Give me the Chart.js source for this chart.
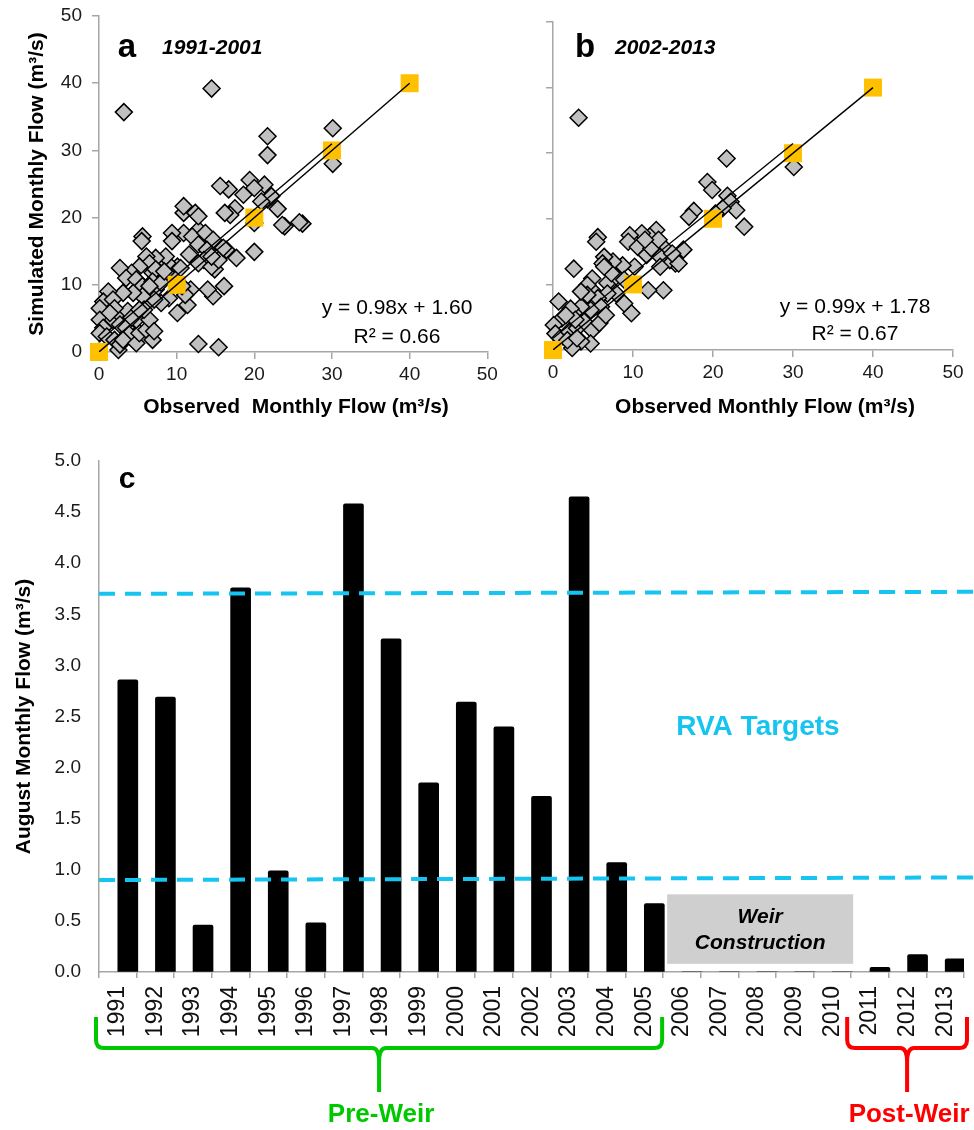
<!DOCTYPE html>
<html>
<head>
<meta charset="utf-8">
<script src="https://cdn.jsdelivr.net/npm/chart.js@4.4.0/dist/chart.umd.min.js"></script>
<style>
  body{margin:0;background:#fff;}
  #wrap{position:relative;width:974px;height:1130px;overflow:hidden;}
  canvas{position:absolute;}
</style>
</head>
<body>
<div id="wrap">
  <canvas id="chartA" width="500" height="420" style="left:0;top:0"></canvas>
  <canvas id="chartB" width="494" height="420" style="left:480px;top:0"></canvas>
  <canvas id="chartC" width="974" height="690" style="left:0;top:440px"></canvas>
</div>
<script>
const FONT = "'Liberation Sans', Arial, sans-serif";
Chart.defaults.font.family = FONT;
Chart.defaults.color = "#1a1a1a";
const AXIS = "#a6a6a6";
const CYAN = "#16c4f0";

/* ------- DATA ------- */
// panel a, 1991-2001 (observed vs simulated, m3/s)
const obsA = [3.2,14.5,30.1,21.7,21.7,30.1,12.8,15.4,20.0,23.9,26.2,25.8,23.6,23.0,21.7,21.3,19.4,18.6,20.0,16.7,
  15.6,17.5,16.9,16.2,20.0,22.2,20.9,17.7,16.4,16.1,14.7,14.0,11.8,10.9,12.4,10.9,12.8,10.9,9.4,9.4,
  12.0,13.7,14.7,12.8,11.6,13.9,14.5,14.9,13.5,10.1,8.8,8.6,7.3,9.9,9.0,10.1,11.4,8.0,5.6,5.5,
  6.1,6.5,6.9,5.2,4.2,2.7,3.5,4.8,5.6,6.5,7.3,7.1,5.6,4.4,3.1,1.2,0.55,1.8,0.1,0.1,
  0.55,0.1,1.0,2.0,2.5,2.7,1.8,2.5,3.7,2.7,3.5,3.9,3.1,4.8,5.2,4.8,4.2,6.1,6.9,6.5,
  7.1,5.8,5.2,2.0,1.4,7.3,6.9,8.0,8.4,10.5,11.1,10.7,6.5,12.8,14.5,15.4,16.0,12.8,14.5];
const simA = [35.7,39.2,33.3,32.1,29.3,28.0,1.2,0.7,14.9,18.7,19.1,19.3,18.9,21.3,22.7,24.9,25.6,23.4,24.4,24.2,
  24.7,21.4,20.4,20.7,19.2,23.2,22.4,14.0,15.2,9.8,8.3,9.3,9.3,20.7,20.7,21.7,18.2,17.7,17.7,16.5,
  17.2,17.7,16.7,16.0,14.5,15.2,13.2,12.3,13.7,12.7,13.2,14.2,14.0,10.8,8.0,5.8,7.0,7.3,17.2,16.5,
  14.2,13.2,11.8,12.7,11.8,12.5,11.0,10.8,9.8,8.8,9.3,7.8,8.3,8.8,8.8,9.0,7.5,7.8,6.5,4.8,
  3.6,2.8,2.3,1.8,0.3,1.1,4.8,5.8,6.1,4.1,3.6,2.6,1.8,1.3,2.8,4.8,5.1,3.3,1.8,4.8,
  3.1,6.3,6.3,6.5,5.8,12.3,10.5,10.3,12.0,12.5,8.5,9.8,9.8,13.2,12.7,13.7,15.5,20.2,14.2];

// panel b, 2002-2013
const obsB = [3.2,21.7,30.1,19.3,19.9,21.8,22.2,22.9,23.9,21.2,20.3,17.6,17.0,16.3,15.3,14.6,13.8,12.9,12.1,11.1,
  9.6,9.4,10.6,11.7,12.3,13.4,13.4,10.2,8.7,7.5,6.4,6.2,5.6,5.4,2.6,13.8,11.9,9.8,8.9,7.9,
  6.8,6.8,4.9,4.9,4.3,5.6,6.0,4.7,3.5,2.6,2.2,0.7,1.1,0.1,0.3,0.9,2.0,3.0,3.9,4.9,
  4.7,3.5,2.4,1.8,3.0,5.8,6.6,4.3,3.5,2.8,1.6,15.7,14.9,13.2,11.5,7.9,8.9,7.3,6.4];
const simB = [35.4,29.2,27.9,25.6,24.4,23.5,22.6,21.3,18.8,21.6,20.8,21.2,20.3,15.3,13.2,13.7,15.7,18.3,17.3,17.8,
  17.5,16.5,15.7,14.5,15.5,14.2,12.7,12.7,12.9,13.5,14.2,13.2,17.2,16.5,12.4,9.1,9.1,5.6,7.1,8.6,
  10.2,8.6,10.9,9.1,9.9,7.9,6.6,6.1,6.6,5.6,6.3,7.4,4.8,3.8,2.5,1.8,2.8,3.3,4.3,3.0,
  1.0,1.3,0.3,1.5,1.8,4.1,5.3,8.4,8.9,4.6,5.3,13.2,14.7,16.8,16.8,11.2,10.7,11.7,12.7];

const refPts = [0, 10, 20, 30, 40];      // 1:1 markers
const fitA = [0.98, 1.60], r2A = 0.66;   // slope, intercept
const fitB = [0.99, 1.78], r2B = 0.67;
const fitEnd = 30;

// panel c
const years = ["1991","1992","1993","1994","1995","1996","1997","1998","1999","2000","2001","2002",
  "2003","2004","2005","2006","2007","2008","2009","2010","2011","2012","2013"];
const augFlow = [2.86,2.69,0.46,3.76,0.99,0.48,4.58,3.26,1.85,2.64,2.40,1.72,
  4.65,1.07,0.67,0,0,0,0,0,0.045,0.17,0.13];
const rvaHigh = [3.70, 3.72];
const rvaLow = [0.90, 0.925];
const weir = ["2006", "2010"];
const periods = [
  { label:"Pre-Weir", from:"1991", to:"2005", color:"#00c800" },
  { label:"Post-Weir", from:"2011", to:"2013", color:"#ff0000" }
];

/* ------- HELPERS ------- */
const texts = {
  id: "texts",
  afterDraw(chart, args, opts){
    const ctx = chart.ctx;
    ctx.save();
    (opts.items || []).forEach(t=>{
      ctx.font = t.font + " " + FONT;
      ctx.fillStyle = t.color || "#000";
      ctx.textAlign = t.align || "center";
      ctx.textBaseline = "middle";
      ctx.fillText(t.t, t.x, t.y);
    });
    ctx.restore();
  }
};
Chart.register(texts);

// fixed axis box, no label overhang padding
function fixBox(s, size){
  if(s.isHorizontal()) s.height = size; else s.width = size;
  s.paddingTop = s.paddingBottom = s.paddingLeft = s.paddingRight = 0;
}

/* ------- SCATTER PANELS ------- */
function scatter(id, obs, sim, fit, o){
  const pts = obs.map((x,i)=>({x:x, y:sim[i]}));
  return new Chart(document.getElementById(id), {
    type: "scatter",
    data: { datasets: [
      { type:"line", data:[{x:0,y:0},{x:40,y:40}], borderColor:"#000", borderWidth:1.4, pointRadius:0 },
      { type:"line", data:[{x:0,y:fit[1]},{x:fitEnd,y:fit[0]*fitEnd+fit[1]}], borderColor:"#000", borderWidth:1.4, pointRadius:0 },
      { data: refPts.map(v=>({x:v,y:v})), pointStyle:"rect", pointRadius:12.7, backgroundColor:"#ffc000", borderWidth:0, clip:false },
      { data: pts, pointStyle:"rectRot", pointRadius:8.5, backgroundColor:"#c0c0c0", borderColor:"#000", borderWidth:1.5, clip:false }
    ]},
    options: {
      responsive:false, animation:false, events:[],
      layout:{ padding:{ top:o.top, right:o.right, left:0, bottom:0 } },
      plugins:{ legend:{display:false}, tooltip:{enabled:false}, texts:{ items:o.texts } },
      scales:{
        x:{ type:"linear", min:0, max:50,
            ticks:{ stepSize:10, font:{size:19}, padding:4 },
            grid:{ drawOnChartArea:false, tickLength:7, color:AXIS, lineWidth:1.5 },
            border:{ color:AXIS, width:1.5 },
            afterFit: s=>fixBox(s, o.xh) },
        y:{ type:"linear", min:0, max:50,
            ticks:{ stepSize:10, font:{size:19}, padding:10, callback: v=> o.yLabels ? v : "" },
            grid:{ drawOnChartArea:false, tickLength:7, color:AXIS, lineWidth:1.5 },
            border:{ color:AXIS, width:1.5 },
            title:{ display:!!o.yTitle, text:o.yTitle, color:"#000", font:{size:21, weight:"bold"}, padding:{top:25, bottom:0} },
            afterFit: s=>fixBox(s, o.yw) }
      }
    }
  });
}

const eq = f => `y = ${f[0].toFixed(2)}x + ${f[1].toFixed(2)}`;

scatter("chartA", obsA, simA, fitA, {
  top:16, right:8, xh:68, yw:99, yLabels:true,
  yTitle:"Simulated Monthly Flow (m³/s)",
  texts:[
    { t:"a", x:127, y:48, font:"bold 33px" },
    { t:"1991-2001", x:162, y:48, font:"italic bold 21px", align:"left" },
    { t:eq(fitA), x:397, y:308, font:"21px" },
    { t:"R² = " + r2A.toFixed(2), x:397, y:337, font:"21px" },
    { t:"Observed  Monthly Flow (m³/s)", x:296, y:407, font:"bold 21px" }
  ]
});

scatter("chartB", obsB, simB, fitB, {
  top:22, right:21, xh:70, yw:73, yLabels:false,
  texts:[
    { t:"b", x:105, y:48, font:"bold 33px" },
    { t:"2002-2013", x:135, y:48, font:"italic bold 21px", align:"left" },
    { t:eq(fitB), x:375, y:307, font:"21px" },
    { t:"R² = " + r2B.toFixed(2), x:375, y:334, font:"21px" },
    { t:"Observed Monthly Flow (m³/s)", x:285, y:407, font:"bold 21px" }
  ]
});

/* ------- PANEL C EXTRAS ------- */
function brace(ctx, x1, x2, yTop, yMid, yTip){
  const xm = (x1+x2)/2, r = 8;
  ctx.beginPath();
  ctx.moveTo(x1, yTop);
  ctx.lineTo(x1, yMid-r);
  ctx.quadraticCurveTo(x1, yMid, x1+r, yMid);
  ctx.lineTo(xm-7, yMid);
  ctx.quadraticCurveTo(xm, yMid, xm, yMid+14);
  ctx.lineTo(xm, yTip);
  ctx.moveTo(xm, yMid+14);
  ctx.quadraticCurveTo(xm, yMid, xm+7, yMid);
  ctx.lineTo(x2-r, yMid);
  ctx.quadraticCurveTo(x2, yMid, x2, yMid-r);
  ctx.lineTo(x2, yTop);
  ctx.stroke();
}

const cExtras = {
  id: "cExtras",
  afterDraw(chart){
    const {ctx, scales:{x, y}} = chart;
    const cw = x.getPixelForValue(1) - x.getPixelForValue(0);
    const edge = i => x.getPixelForValue(i) - cw/2;
    ctx.save();

    // weir construction box
    const b1 = edge(years.indexOf(weir[0])) + 4, b2 = edge(years.indexOf(weir[1])+1) + 2;
    const t1 = y.getPixelForValue(0.76), t2 = y.getPixelForValue(0.08);
    ctx.fillStyle = "#d0cfcf";
    ctx.fillRect(b1, t1, b2-b1, t2-t1);
    ctx.fillStyle = "#000";
    ctx.textAlign = "center"; ctx.textBaseline = "middle";
    ctx.font = "italic bold 21px " + FONT;
    ctx.fillText("Weir", (b1+b2)/2, t1+23);
    ctx.fillText("Construction", (b1+b2)/2, t1+49);

    // labels
    ctx.font = "bold 30px " + FONT;
    ctx.fillText("c", 127, 40);
    ctx.fillStyle = CYAN;
    ctx.font = "bold 28px " + FONT;
    ctx.fillText("RVA Targets", 758, 287);

    // period braces
    ctx.lineWidth = 4;
    periods.forEach((p,k)=>{
      const x1 = edge(years.indexOf(p.from)) - (k ? 4 : 3);
      const x2 = edge(years.indexOf(p.to)+1) + (k ? 3 : -1);
      ctx.strokeStyle = p.color;
      brace(ctx, x1, x2, 577, 608, 652);
      ctx.fillStyle = p.color;
      ctx.font = "bold 26px " + FONT;
      ctx.fillText(p.label, (x1+x2)/2 + 2, 675);
    });
    ctx.restore();
  }
};

new Chart(document.getElementById("chartC"), {
  type: "bar",
  data: { labels: years, datasets: [
    { type:"line", xAxisID:"xl", data:[{x:0,y:rvaHigh[0]},{x:1.012,y:rvaHigh[1]}], borderColor:CYAN, borderWidth:4, borderDash:[16,10], pointRadius:0, clip:false },
    { type:"line", xAxisID:"xl", data:[{x:0,y:rvaLow[0]},{x:1.012,y:rvaLow[1]}], borderColor:CYAN, borderWidth:4, borderDash:[16,10], pointRadius:0, clip:false },
    { data: augFlow, backgroundColor:"#000", barThickness:20, borderRadius:2 }
  ]},
  options: {
    responsive:false, animation:false, events:[],
    layout:{ padding:{ top:21, right:10, left:0, bottom:0 } },
    plugins:{ legend:{display:false}, tooltip:{enabled:false} },
    scales:{
      x:{ ticks:{ font:{size:23}, color:"#111", maxRotation:90, minRotation:90, padding:8, autoSkip:false },
          grid:{ drawOnChartArea:false, tickLength:6, color:AXIS, lineWidth:1.5, offset:true },
          border:{ color:AXIS, width:1.5 },
          afterFit: s=>fixBox(s, 158) },
      xl:{ type:"linear", min:0, max:1, offset:false, display:false },
      y:{ min:0, max:5,
          ticks:{ stepSize:0.5, font:{size:19}, padding:18, callback: v=>v.toFixed(1) },
          grid:{ drawOnChartArea:false, drawTicks:false },
          border:{ color:AXIS, width:1.5 },
          title:{ display:true, text:"August Monthly Flow (m³/s)", color:"#000", font:{size:21, weight:"bold"}, padding:{top:12, bottom:0} },
          afterFit: s=>fixBox(s, 99) }
    }
  },
  plugins:[cExtras]
});
</script>
</body>
</html>
